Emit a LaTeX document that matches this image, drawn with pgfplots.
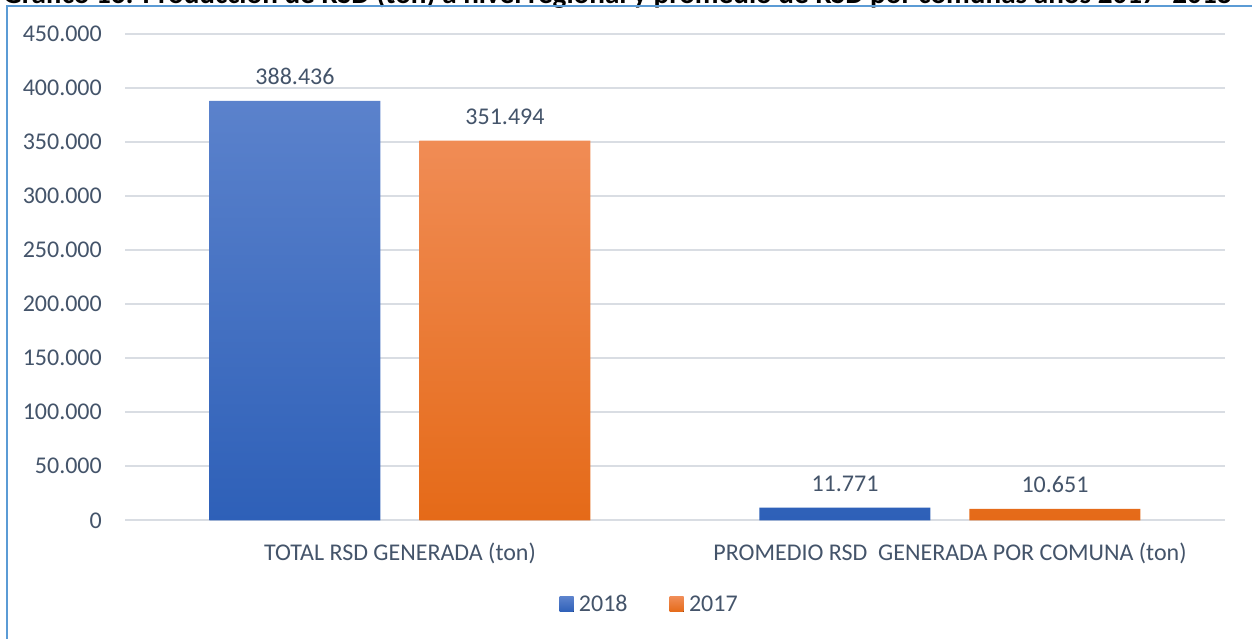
\documentclass[border=0pt]{standalone}
\usepackage{pgfplots}
\pgfplotsset{compat=1.18}
\usepackage{fontspec}
\setmainfont{Carlito}
\definecolor{txt}{HTML}{44546A}
\definecolor{gridc}{HTML}{D9DDE3}
\definecolor{frame}{HTML}{5B9BD5}
\definecolor{bluetop}{HTML}{5B82CC}
\definecolor{bluebot}{HTML}{2E60B8}
\definecolor{orgtop}{HTML}{F08C55}
\definecolor{orgbot}{HTML}{E56A18}
\begin{document}
\begin{tikzpicture}[font=\fontsize{24bp}{28bp}\selectfont]
\useasboundingbox (0,0) rectangle (1252bp,639bp);
\fill[white] (0,0) rectangle (1252bp,639bp);
\begin{scope}
\clip (0,0) rectangle (1252bp,639bp);
\node[anchor=base west, inner sep=0, text=black] at (3bp,635.5bp)
  {\resizebox{1228bp}{!}{\bfseries Gráfico 16: Producción de RSD (ton) a nivel regional y promedio de RSD por comunas años 2017- 2018}};
\draw[frame, line width=2bp] (7bp,-5bp) -- (7bp,633.3bp) -- (1260bp,633.3bp);
\end{scope}
\begin{axis}[
  at={(125bp,118.7bp)}, anchor=south west,
  scale only axis, width=1100bp, height=486bp,
  xmin=-0.5, xmax=1.5, ymin=0, ymax=450000,
  ybar=39bp, bar width=171bp,
  axis line style={draw=none},
  major tick length=0pt,
  ymajorgrids, grid style={gridc, line width=1.6bp},
  ytick={0,50000,...,450000},
  xtick={0,1},
  xticklabels={TOTAL RSD GENERADA (ton), PROMEDIO RSD\ \ GENERADA POR COMUNA (ton)},
  /pgf/number format/.cd, 1000 sep={.}, fixed, precision=0, assume math mode=true,
  /pgfplots/.cd,
  scaled y ticks=false,
  tick label style={text=txt, font=\fontsize{24bp}{28bp}\selectfont},
  yticklabel style={anchor=east, inner sep=0pt, xshift=-23bp},
  xticklabel style={anchor=base, inner sep=0pt, yshift=-40bp},
  nodes near coords,
  every node near coord/.append style={text=txt, anchor=base, inner sep=0pt, yshift=16bp, font=\fontsize{24bp}{28bp}\selectfont},
  legend columns=2,
  legend style={at={(0.476,-0.173)}, anchor=center, draw=none, fill=none,
    font=\fontsize{24bp}{28bp}\selectfont, text=txt,
    /tikz/every even column/.append style={column sep=42bp},
    nodes={inner sep=0pt, anchor=west}},
  legend image code/.code={\fill[#1] (0bp,-7.5bp) rectangle (14bp,7.5bp);},
]
\addplot[draw=none, top color=bluetop, bottom color=bluebot] coordinates {(0,388436) (1,11771)};
\addplot[draw=none, top color=orgtop, bottom color=orgbot] coordinates {(0,351494) (1,10651)};
\legend{\ 2018,\ 2017}
\end{axis}
\end{tikzpicture}
\end{document}
